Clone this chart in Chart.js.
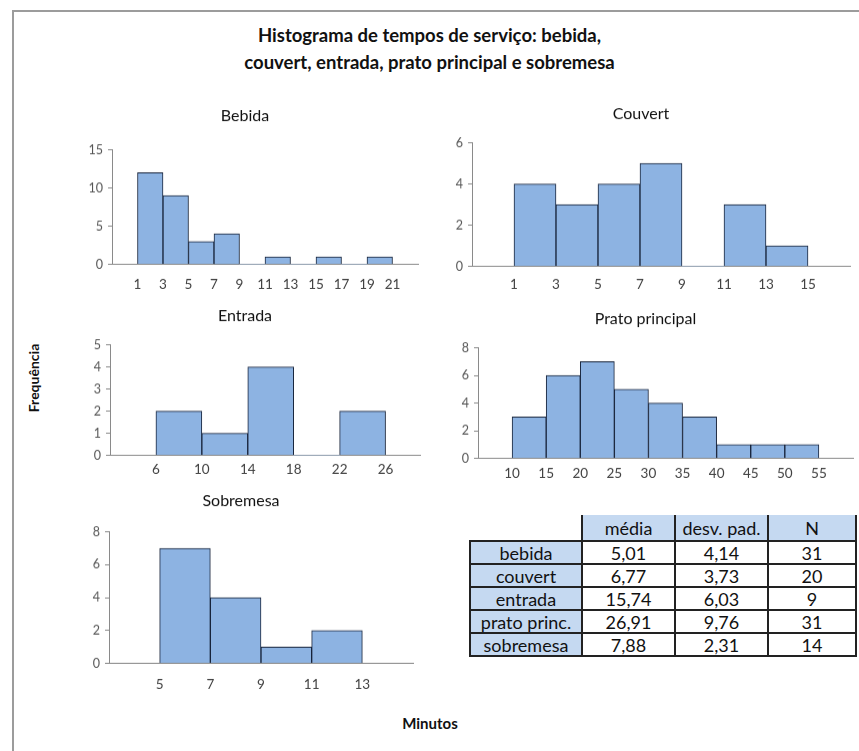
<!DOCTYPE html>
<html>
<head>
<meta charset="utf-8">
<script src="https://cdn.jsdelivr.net/npm/chart.js@4.4.1/dist/chart.umd.min.js"></script>
<style>
html, body { margin: 0; padding: 0; background: #fff; width: 859px; height: 751px; overflow: hidden; font-family: Lato, 'Open Sans', sans-serif; }
.frame { position: absolute; left: 12px; top: 10px; width: 900px; height: 800px; border-left: 2px solid #9c9c9c; border-top: 2px solid #9c9c9c; }
.box { position: absolute; }
#title { position: absolute; left: 0; width: 859px; top: 22px; text-align: center; font-weight: bold; font-size: 18.5px; line-height: 27px; color: #111; }
#ylab { position: absolute; left: 33px; top: 378px; transform: translate(-50%, -50%) rotate(-90deg); font-weight: bold; font-size: 14px; color: #111; white-space: nowrap; }
#xlab { position: absolute; left: 430px; top: 723px; transform: translate(-50%, -50%); font-weight: bold; font-size: 15px; color: #111; }
#stats { position: absolute; left: 469px; top: 515px; border-collapse: collapse; table-layout: fixed; font-size: 18px; color: #111; }
#stats th, #stats td { padding: 0; text-align: center; font-weight: normal; line-height: 18px; white-space: nowrap; }
#stats th { background: #c5d9f1; border-left: 2px solid #222; border-right: 2px solid #222; height: 25px; }
#stats th.blank { background: none; border: none; }
#stats td { border: 2px solid #222; background: #fff; height: 21px; }
#stats td.lab { background: #c5d9f1; }
</style>
</head>
<body>
<div class="frame"></div>
<div id="title">Histograma de tempos de serviço: bebida,<br>couvert, entrada, prato principal e sobremesa</div>
<div id="ylab">Frequência</div>
<div id="xlab">Minutos</div>

<div class="box"><canvas id="bebida"></canvas></div>
<div class="box"><canvas id="couvert"></canvas></div>
<div class="box"><canvas id="entrada"></canvas></div>
<div class="box"><canvas id="prato"></canvas></div>
<div class="box"><canvas id="sobremesa"></canvas></div>

<table id="stats">
  <colgroup><col style="width:112px"><col style="width:93px"><col style="width:93px"><col style="width:88px"></colgroup>
  <thead><tr id="statsHead"></tr></thead>
  <tbody id="statsBody"></tbody>
</table>

<script>
// bin edges (also the x tick labels) and counts per bin
const bebidaEdges = [1, 3, 5, 7, 9, 11, 13, 15, 17, 19, 21];
const bebidaCounts = [12, 9, 3, 4, 0, 1, 0, 1, 0, 1];
const couvertEdges = [1, 3, 5, 7, 9, 11, 13, 15];
const couvertCounts = [4, 3, 4, 5, 0, 3, 1];
const entradaEdges = [6, 10, 14, 18, 22, 26];
const entradaCounts = [2, 1, 4, 0, 2];
const pratoEdges = [10, 15, 20, 25, 30, 35, 40, 45, 50, 55];
const pratoCounts = [3, 6, 7, 5, 4, 3, 1, 1, 1];
const sobremesaEdges = [5, 7, 9, 11, 13];
const sobremesaCounts = [7, 4, 1, 2];

// y axis ticks
const bebidaYTicks = [0, 5, 10, 15];
const couvertYTicks = [0, 2, 4, 6];
const entradaYTicks = [0, 1, 2, 3, 4, 5];
const pratoYTicks = [0, 2, 4, 6, 8];
const sobremesaYTicks = [0, 2, 4, 6, 8];

// summary table
const statHeader = ['média', 'desv. pad.', 'N'];
const statRows = ['bebida', 'couvert', 'entrada', 'prato princ.', 'sobremesa'];
const statMedia = ['5,01', '6,77', '15,74', '26,91', '7,88'];
const statDesv = ['4,14', '3,73', '6,03', '9,76', '2,31'];
const statN = ['31', '20', '9', '31', '14'];

const YW = 40;   // y axis box width
const XH = 40;   // x axis box height
const TITLE_SIZE = 16;

// where each plot area sits on the page (l, r, t, b), title centre, x range, label gap
const panels = {
  bebida:    { l: 112, r: 418, t: 150, b: 264, tx: 257, ty: 116, xmin: -1, xmax: 23, lab: 20 },
  couvert:   { l: 472, r: 850, t: 143, b: 266, tx: 655, ty: 114, xmin: -1, xmax: 17, lab: 18 },
  entrada:   { l: 110, r: 420, t: 345, b: 455, tx: 265, ty: 316, xmin: 2, xmax: 29, lab: 14 },
  prato:     { l: 478, r: 853, t: 348, b: 458, tx: 660, ty: 319, xmin: 5, xmax: 60, lab: 15 },
  sobremesa: { l: 109, r: 413, t: 532, b: 663, tx: 255, ty: 501, xmin: 3, xmax: 15, lab: 21 }
};

function histogram(id, titleText, edges, counts, yTicks) {
  const p = panels[id];
  const canvas = document.getElementById(id);
  const box = canvas.parentNode;
  const half = TITLE_SIZE * 1.2 / 2;
  const left = p.l - YW;
  const top = p.ty - half;
  const rightPad = Math.max(2 * p.tx - left - p.r, 4);
  box.style.left = left + 'px';
  box.style.top = top + 'px';
  box.style.width = (p.r + rightPad - left) + 'px';
  box.style.height = (p.b + XH - top) + 'px';

  const points = counts.map((c, i) => ({ x: (edges[i] + edges[i + 1]) / 2, y: c }));

  return new Chart(canvas, {
    type: 'bar',
    data: {
      datasets: [{
        data: points,
        backgroundColor: '#8db3e2',
        borderColor: '#17233a',
        borderWidth: ctx => (ctx.raw && ctx.raw.y > 0 ? 1 : 0),
        barPercentage: 1,
        categoryPercentage: 1
      }]
    },
    options: {
      animation: false,
      responsive: true,
      maintainAspectRatio: false,
      devicePixelRatio: 1,
      events: [],
      layout: { padding: { top: 0, left: 0, bottom: 0, right: rightPad } },
      plugins: {
        legend: { display: false },
        tooltip: { enabled: false },
        title: {
          display: true,
          text: titleText,
          color: '#111',
          font: { family: 'Lato', size: TITLE_SIZE, weight: 'normal', lineHeight: 1.2 },
          padding: { top: 0, bottom: p.t - p.ty - half }
        }
      },
      scales: {
        x: {
          type: 'linear',
          offset: false,
          min: p.xmin,
          max: p.xmax,
          grid: { display: false, drawTicks: false },
          border: { display: true, color: '#8a8a8a', width: 1 },
          ticks: {
            color: '#404040',
            font: { family: 'Lato', size: 13.5 },
            padding: p.lab - 8.1,
            maxRotation: 0,
            autoSkip: false
          },
          afterBuildTicks: axis => { axis.ticks = edges.map(v => ({ value: v })); },
          afterFit: axis => { axis.height = XH; }
        },
        y: {
          min: yTicks[0],
          max: yTicks[yTicks.length - 1],
          grid: { drawOnChartArea: false, drawTicks: true, tickLength: 4, color: '#8a8a8a' },
          border: { display: true, color: '#8a8a8a', width: 1 },
          ticks: {
            color: '#555',
            font: { family: 'Lato', size: 12.5 },
            padding: 5
          },
          afterBuildTicks: axis => { axis.ticks = yTicks.map(v => ({ value: v })); },
          afterFit: axis => { axis.width = YW; }
        }
      }
    }
  });
}

histogram('bebida', 'Bebida', bebidaEdges, bebidaCounts, bebidaYTicks);
histogram('couvert', 'Couvert', couvertEdges, couvertCounts, couvertYTicks);
histogram('entrada', 'Entrada', entradaEdges, entradaCounts, entradaYTicks);
histogram('prato', 'Prato principal', pratoEdges, pratoCounts, pratoYTicks);
histogram('sobremesa', 'Sobremesa', sobremesaEdges, sobremesaCounts, sobremesaYTicks);

// summary table
const head = document.getElementById('statsHead');
head.innerHTML = '<th class="blank"></th>' + statHeader.map(h => '<th>' + h + '</th>').join('');
const body = document.getElementById('statsBody');
body.innerHTML = statRows.map((r, i) =>
  '<tr><td class="lab">' + r + '</td><td>' + statMedia[i] + '</td><td>' + statDesv[i] +
  '</td><td>' + statN[i] + '</td></tr>').join('');
</script>
</body>
</html>
